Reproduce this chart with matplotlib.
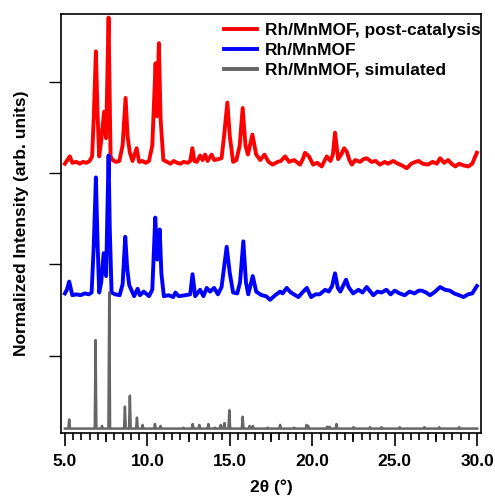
import matplotlib
matplotlib.use('Agg')
import matplotlib.pyplot as plt
import numpy as np

plt.rcParams['font.family'] = ['Liberation Sans', 'DejaVu Sans']

# post-catalysis pattern (2theta, offset normalized intensity)
red_x = [5.0, 5.15, 5.3, 5.45, 5.7, 5.9, 6.1, 6.3, 6.5, 6.65, 6.75, 6.88, 6.97, 7.08, 7.2, 7.38,
         7.5, 7.58, 7.65, 7.71, 7.77, 7.9, 8.1, 8.3, 8.5, 8.68, 8.8, 8.94, 9.1, 9.35, 9.5, 9.7,
         9.9, 10.1, 10.3, 10.5, 10.58, 10.7, 10.8, 10.97, 11.2, 11.4, 11.6, 11.8, 12.0, 12.2,
         12.45, 12.6, 12.73, 12.85, 13.0, 13.2, 13.35, 13.5, 13.65, 13.9, 14.05, 14.3, 14.5,
         14.65, 14.85, 15.0, 15.2, 15.4, 15.6, 15.78, 15.95, 16.1, 16.37, 16.6, 16.85, 17.1,
         17.35, 17.6, 17.9, 18.1, 18.35, 18.6, 18.9, 19.26, 19.45, 19.56, 19.8, 20.05, 20.3,
         20.57, 20.88, 21.1, 21.25, 21.38, 21.57, 21.75, 21.93, 22.1, 22.25, 22.4, 22.6, 22.9,
         23.1, 23.3, 23.6, 23.85, 24.1, 24.4, 24.6, 24.9, 25.2, 25.45, 25.73, 26.0, 26.25,
         26.45, 26.7, 27.0, 27.3, 27.55, 27.75, 28.0, 28.24, 28.45, 28.67, 28.9, 29.2, 29.47,
         29.7, 29.98]
red_y = [3.10, 3.14, 3.18, 3.11, 3.12, 3.10, 3.12, 3.11, 3.13, 3.18, 3.60, 4.33, 3.70, 3.18, 3.35, 3.67,
         3.38, 4.10, 4.70, 3.90, 3.18, 3.14, 3.12, 3.13, 3.30, 3.82, 3.40, 3.22, 3.13, 3.27, 3.12, 3.13,
         3.11, 3.13, 3.30, 4.20, 3.62, 4.42, 3.60, 3.14, 3.12, 3.10, 3.13, 3.11, 3.10, 3.12,
         3.11, 3.13, 3.27, 3.13, 3.12, 3.19, 3.14, 3.20, 3.13, 3.20, 3.14, 3.15, 3.16,
         3.40, 3.77, 3.40, 3.12, 3.14, 3.30, 3.71, 3.30, 3.20, 3.42, 3.20, 3.14, 3.20,
         3.12, 3.09, 3.12, 3.13, 3.18, 3.12, 3.14, 3.09, 3.16, 3.22, 3.18, 3.09, 3.11,
         3.07, 3.18, 3.13, 3.20, 3.44, 3.15, 3.20, 3.27, 3.23, 3.14, 3.09, 3.14, 3.12,
         3.15, 3.16, 3.12, 3.13, 3.09, 3.12, 3.10, 3.13, 3.10, 3.08, 3.05, 3.10, 3.12,
         3.13, 3.10, 3.09, 3.12, 3.10, 3.16, 3.11, 3.14, 3.10, 3.07, 3.10, 3.08, 3.07,
         3.10, 3.22]

# as-synthesized pattern
blue_x = [5.0, 5.12, 5.26, 5.45, 5.7, 5.95, 6.2, 6.45, 6.62, 6.75, 6.88, 6.97, 7.08, 7.2, 7.35,
          7.5, 7.58, 7.65, 7.72, 7.83, 8.05, 8.32, 8.5, 8.66, 8.78, 8.9, 9.2, 9.41, 9.55, 9.78,
          10.1, 10.3, 10.48, 10.6, 10.75, 10.85, 11.0, 11.3, 11.57, 11.7, 11.9, 12.3, 12.6,
          12.74, 12.9, 13.2, 13.4, 13.6, 13.8, 14.05, 14.28, 14.5, 14.81, 15.0, 15.2, 15.45,
          15.62, 15.82, 15.98, 16.12, 16.39, 16.6, 16.93, 17.2, 17.44, 17.75, 18.05, 18.2,
          18.45, 18.7, 19.16, 19.4, 19.67, 19.93, 20.2, 20.45, 20.78, 21.0, 21.2, 21.38,
          21.55, 21.7, 22.05, 22.2, 22.48, 22.8, 23.05, 23.3, 23.7, 23.95, 24.2, 24.5,
          24.75, 25.0, 25.3, 25.6, 25.9, 26.2, 26.45, 26.65, 26.9, 27.15, 27.45, 27.75,
          28.05, 28.35, 28.6, 28.9, 29.17, 29.45, 29.7, 29.98]
blue_y = [1.68, 1.72, 1.81, 1.66, 1.67, 1.66, 1.68, 1.67, 1.69, 2.20, 2.95, 2.30, 1.69, 1.80, 2.12,
          1.87, 2.60, 3.19, 2.40, 1.69, 1.67, 1.66, 1.78, 2.30, 1.95, 1.77, 1.65, 1.73, 1.66, 1.70,
          1.65, 1.72, 2.51, 2.05, 2.38, 1.90, 1.65, 1.66, 1.64, 1.69, 1.65, 1.66, 1.67,
          1.89, 1.65, 1.72, 1.65, 1.74, 1.70, 1.74, 1.67, 1.75, 2.19, 1.90, 1.69, 1.68,
          1.80, 2.25, 1.80, 1.67, 1.87, 1.70, 1.66, 1.65, 1.61, 1.66, 1.70, 1.68,
          1.74, 1.69, 1.64, 1.69, 1.74, 1.64, 1.67, 1.67, 1.72, 1.70, 1.76, 1.90,
          1.74, 1.70, 1.83, 1.75, 1.68, 1.72, 1.69, 1.75, 1.66, 1.70, 1.69, 1.72,
          1.67, 1.71, 1.68, 1.66, 1.70, 1.68, 1.71, 1.71, 1.69, 1.66, 1.70, 1.75,
          1.72, 1.71, 1.68, 1.66, 1.64, 1.67, 1.68, 1.76]

# simulated pattern: peak positions and heights on a flat baseline
sim_base = 0.20
sim_pos = [5.26, 6.86, 7.25, 7.69, 8.64, 8.94, 9.37, 9.71, 10.46, 10.8, 12.18, 12.75, 13.15,
           13.7, 14.1, 14.45, 14.67, 14.97, 15.78, 16.2, 16.4, 17.3, 18.05, 18.9, 19.65, 19.75,
           20.9, 21.05, 21.47, 22.5, 23.5, 24.2, 25.3, 26.8, 27.7, 28.9]
sim_h = [0.30, 1.17, 0.23, 1.69, 0.44, 0.56, 0.32, 0.24, 0.25, 0.23, 0.21, 0.25, 0.24,
         0.25, 0.21, 0.24, 0.26, 0.40, 0.33, 0.23, 0.23, 0.21, 0.24, 0.21, 0.24, 0.23,
         0.22, 0.22, 0.25, 0.215, 0.215, 0.215, 0.215, 0.215, 0.215, 0.215]

sim_x = [5.0]
sim_y = [sim_base]
for p, h in zip(sim_pos, sim_h):
    sim_x += [p - 0.05, p, p + 0.05]
    sim_y += [sim_base, h, sim_base]
sim_x.append(30.0)
sim_y.append(sim_base)

fig = plt.figure(figsize=(4.95, 4.97), dpi=100)
ax = fig.add_axes([0.123, 0.129, 0.849, 0.843])

ax.plot(red_x, red_y, color='#ff0000', lw=2.8, label='Rh/MnMOF, post-catalysis')
ax.plot(blue_x, blue_y, color='#0000ff', lw=2.8, label='Rh/MnMOF')
ax.plot(sim_x, sim_y, color='#666666', lw=1.8, label='Rh/MnMOF, simulated')

ax.set_xlim(4.757, 30.24)
ax.set_ylim(0.153, 4.74)

ax.set_xticks(np.arange(5, 30.1, 5))
ax.set_xticks(np.arange(5, 30.1, 0.5), minor=True)
ax.set_xticklabels(['%.1f' % v for v in np.arange(5, 30.1, 5)], fontweight='bold', fontsize=12.5)
ax.set_yticks([1, 2, 3, 4])
ax.set_yticklabels([])
ax.tick_params(axis='x', which='major', direction='out', length=9, width=1.2, pad=6)
ax.tick_params(axis='x', which='minor', direction='out', length=5, width=1.2)
ax.tick_params(axis='y', which='major', direction='out', length=8.5, width=1.0)

# medium ticks every 2.5
sec = ax.secondary_xaxis('bottom')
sec.set_xticks(np.arange(7.5, 30, 5))
sec.set_xticklabels([])
sec.tick_params(direction='out', length=6.5, width=1.2)
sec.spines['bottom'].set_visible(False)

for s in ax.spines.values():
    s.set_linewidth(1.2)

ax.set_ylabel('Normalized Intensity (arb. units)', fontweight='bold', fontsize=12.5, labelpad=11)
ax.set_xlabel('2θ (°)', fontweight='bold', fontsize=12.5, labelpad=8)

leg = ax.legend(loc='upper left', bbox_to_anchor=(0.388, 0.978), frameon=False,
                prop={'weight': 'bold', 'size': 12.5}, handlelength=1.9, handletextpad=0.46,
                labelspacing=0.27, borderpad=0, borderaxespad=0)
for line in leg.get_lines():
    line.set_linewidth(2.8)

fig.savefig('out.png', dpi=100)
